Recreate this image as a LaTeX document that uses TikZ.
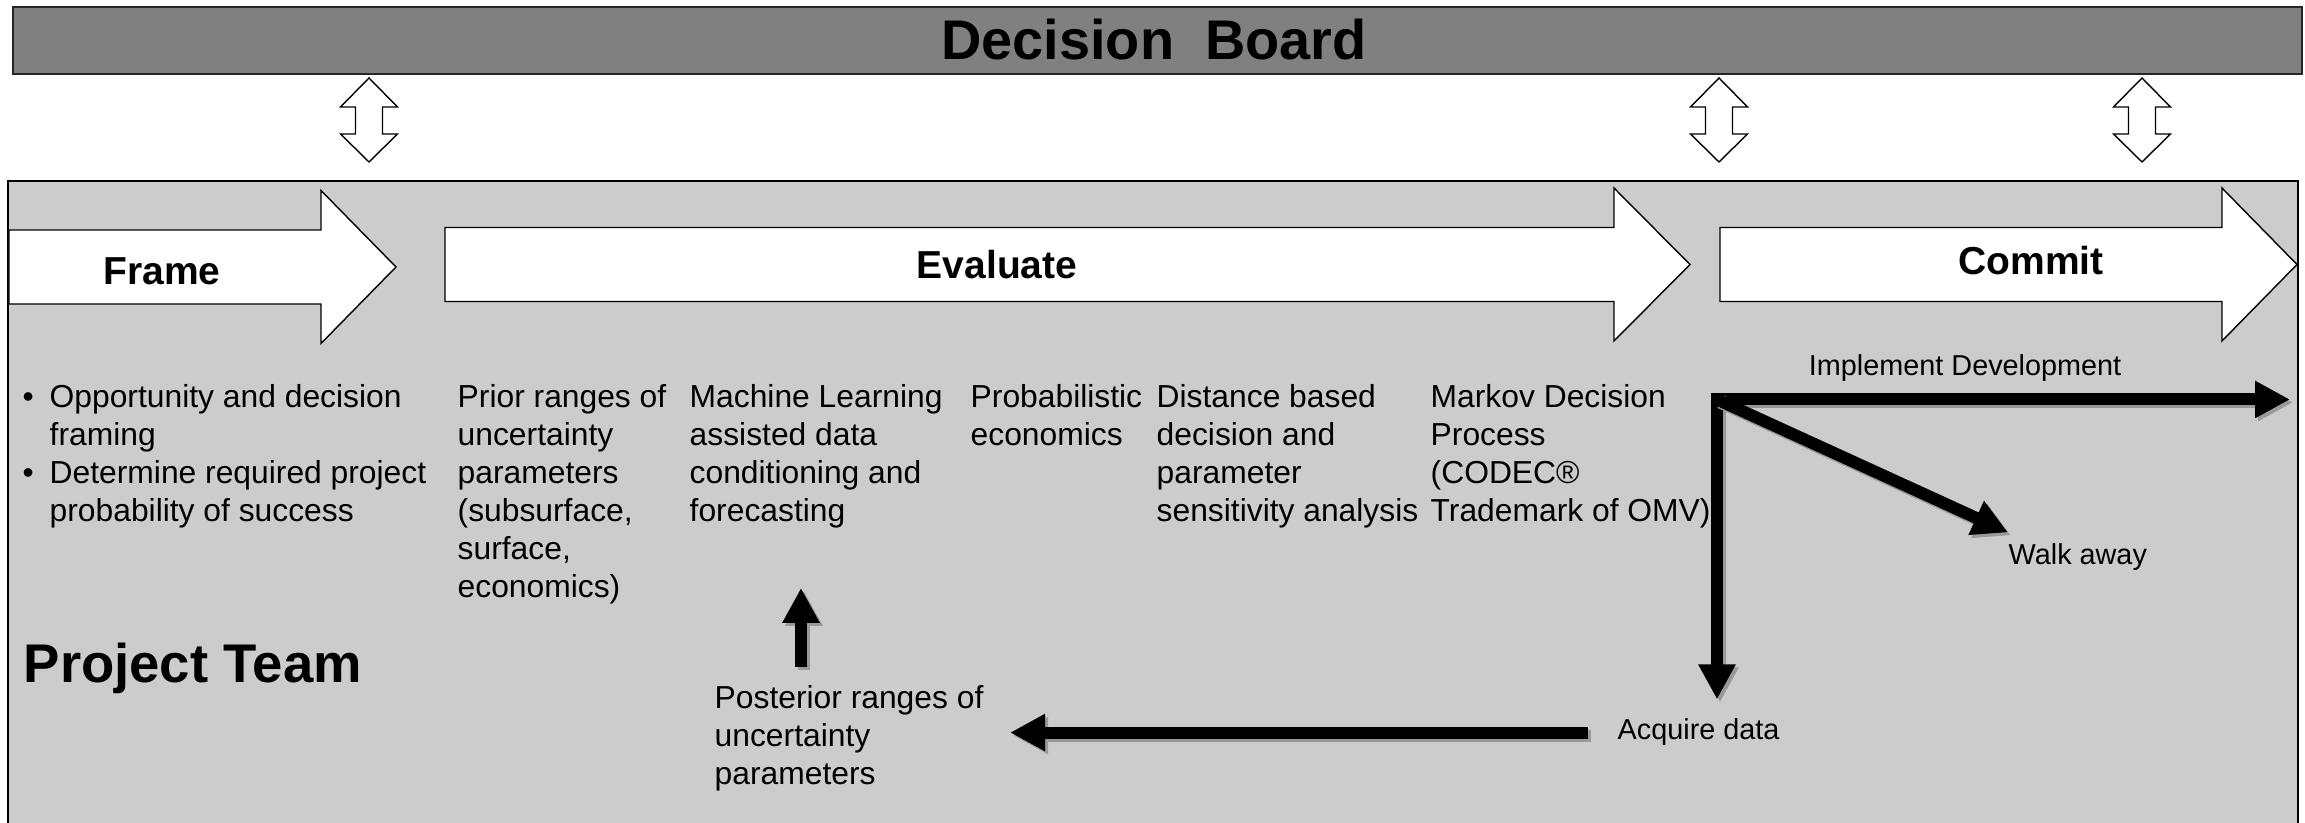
\documentclass[tikz,border=0pt]{standalone}
\usepackage{fontspec}
\setmainfont{Liberation Sans}
\usetikzlibrary{arrows.meta, calc, positioning}

\begin{document}
\begin{tikzpicture}[
    boardbar/.style={draw=black!85, line width=0.4pt, fill=black!50},
    teambox/.style={draw=black, line width=0.6pt, fill=black!20},
    stage/.style={draw=black, line width=0.4pt, fill=white},
    duplex/.style={draw=black, line width=0.4pt, fill=white},
    stagetitle/.style={anchor=base, inner sep=0pt, font=\fontsize{11.1}{13}\selectfont\bfseries},
    column/.style={anchor=north west, inner sep=0pt, align=left, font=\fontsize{9.05}{10.8}\selectfont},
    smalltext/.style={inner sep=0pt, font=\fontsize{8.2}{9.8}\selectfont},
    flow/.style={line width=0.12cm, -{Triangle[width=0.35cm, length=0.35cm]},
      preaction={draw=black!40, line width=0.12cm, transform canvas={shift={(0.03,-0.03)}}}}
  ]
  \useasboundingbox (0,0) rectangle (23.05,8.23);
  \clip (0,0) rectangle (23.05,8.23);

  % Decision board
  \draw[boardbar] (0.13,7.49) rectangle (23.02,8.16);
  \node[anchor=base, inner sep=0pt, font=\fontsize{15.9}{19}\selectfont\bfseries] (board) at (11.54,7.63) {Decision\ \ Board};

  % two-way links between board and team
  \foreach \x in {3.69, 17.19, 21.42}
    \draw[duplex] (\x,7.45) -- (\x+0.285,7.16) -- (\x+0.135,7.16) -- (\x+0.135,6.89) -- (\x+0.285,6.89)
      -- (\x,6.61) -- (\x-0.285,6.89) -- (\x-0.135,6.89) -- (\x-0.135,7.16) -- (\x-0.285,7.16) -- cycle;

  % Project team
  \draw[teambox] (0.08,-0.2) rectangle (22.98,6.42);

  % Stages
  \foreach \xa/\xb/\xc/\yc in {0.09/3.21/3.96/5.56, 4.45/16.14/16.90/5.585, 17.20/22.22/22.97/5.585}
    \draw[stage] (\xa,\yc+0.37) -- (\xb,\yc+0.37) -- (\xb,\yc+0.765) -- (\xc,\yc)
      -- (\xb,\yc-0.765) -- (\xb,\yc-0.37) -- (\xa,\yc-0.37) -- cycle;
  \node[stagetitle] (frame) at (1.62,5.38) {Frame};
  \node[stagetitle] (evaluate) at (9.97,5.44) {Evaluate};
  \node[stagetitle] (commit) at (20.31,5.48) {Commit};

  \node[anchor=base west, inner sep=0pt, font=\fontsize{15.5}{18}\selectfont\bfseries] (team) at (0.23,1.40) {Project Team};

  % Steps
  \node[column] (frametext) at (0.22,4.39) {\makebox[0.27cm][l]{\textbullet}Opportunity and decision\\\hspace*{0.27cm}framing\\\makebox[0.27cm][l]{\textbullet}Determine required project\\\hspace*{0.27cm}probability of success};
  \node[column] (prior) at (4.57,4.39) {Prior ranges of\\uncertainty\\parameters\\(subsurface,\\surface,\\economics)};
  \node[column] (ml) at (6.89,4.39) {Machine Learning\\assisted data\\conditioning and\\forecasting};
  \node[column] (prob) at (9.70,4.39) {Probabilistic\\economics};
  \node[column] (dist) at (11.56,4.39) {Distance based\\decision and\\parameter\\sensitivity analysis};
  \node[column] (markov) at (14.30,4.39) {Markov Decision\\Process\\(CODEC®\\Trademark of OMV)};

  % Decision outcomes
  \coordinate (corner) at (17.17,4.235);
  \coordinate (implend) at (22.90,4.235);
  \node[smalltext, anchor=base west] (walk) at (20.08,2.58) {Walk away};
  \node[smalltext, anchor=base west] (acquire) at (16.17,0.83) {Acquire data};
  \node[column] (posterior) at (7.14,1.38) {Posterior ranges of\\uncertainty\\parameters};
  \coordinate (upx) at (8.01,0);

  \draw[flow, shorten <=-0.06cm] (corner) -- node[smalltext, above=0.125cm, pos=0.433] (implement) {Implement Development} (implend);
  \draw[flow, shorten <=-0.065cm, shorten >=0.19cm] (corner) -- (corner |- acquire.north);
  \draw[flow] (corner) -- ($(walk.north west)+(0,0.11)$);
  \draw[flow, shorten <=0.29cm, shorten >=0.26cm] (acquire.west) -- (acquire.west -| posterior.east);
  \draw[flow, shorten <=0.18cm, shorten >=0.59cm] (upx |- posterior.north) -- (upx |- ml.south);
\end{tikzpicture}
\end{document}
